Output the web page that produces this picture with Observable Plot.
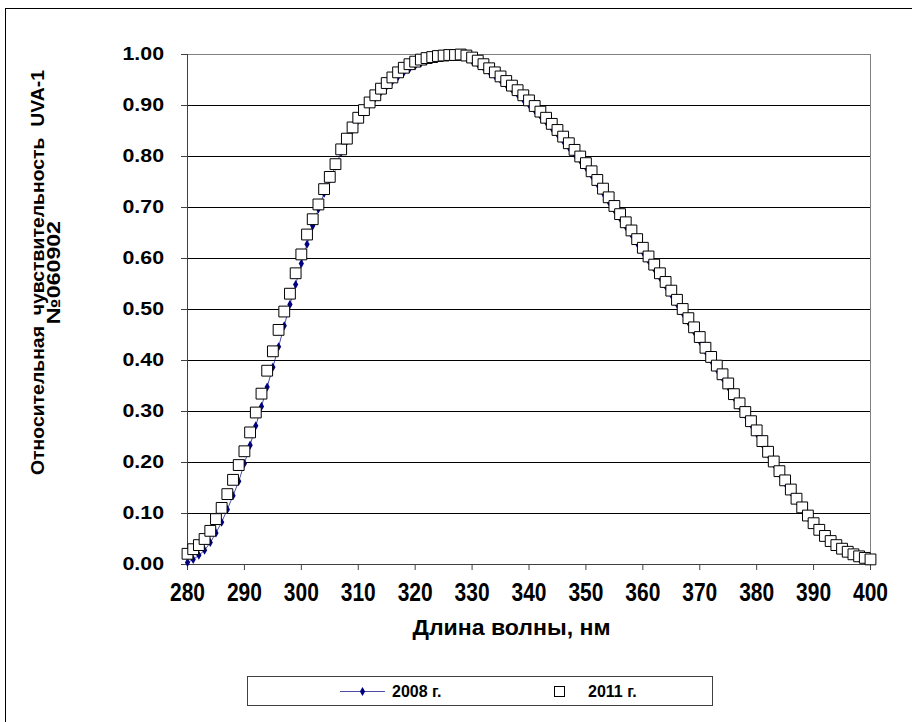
<!DOCTYPE html>
<html><head><meta charset="utf-8">
<script src="https://cdn.jsdelivr.net/npm/d3@7"></script>
<script src="https://cdn.jsdelivr.net/npm/@observablehq/plot@0.6"></script>
<style>
html,body{margin:0;padding:0;background:#fff;width:912px;height:722px;overflow:hidden;}
#wrap{position:relative;width:912px;height:722px;font-family:"Liberation Sans",Arial,sans-serif;}
#chart{position:absolute;left:0;top:0;}
#frame{position:absolute;left:5px;top:8px;width:1000px;height:1000px;border-left:1px solid #000;border-top:1px solid #000;pointer-events:none;}
#legend{position:absolute;left:247px;top:676px;overflow:visible;}
</style></head>
<body><div id="wrap"><div id="chart"></div><div id="frame"></div><svg id="legend" width="467" height="31"></svg></div>
<script>
const wavelengths = [280,281,282,283,284,285,286,287,288,289,290,291,292,293,294,295,296,297,298,299,
300,301,302,303,304,305,306,307,308,309,310,311,312,313,314,315,316,317,318,319,
320,321,322,323,324,325,326,327,328,329,330,331,332,333,334,335,336,337,338,339,
340,341,342,343,344,345,346,347,348,349,350,351,352,353,354,355,356,357,358,359,
360,361,362,363,364,365,366,367,368,369,370,371,372,373,374,375,376,377,378,379,
380,381,382,383,384,385,386,387,388,389,390,391,392,393,394,395,396,397,398,399,400];

const sens2008 = [0.004,0.010,0.018,0.028,0.043,0.062,0.083,0.108,0.135,0.163,0.198,0.234,0.272,0.310,0.348,0.387,0.427,0.468,0.510,0.549,
0.590,0.628,0.664,0.697,0.728,0.755,0.781,0.808,0.830,0.852,0.871,0.887,0.902,0.915,0.927,0.938,0.948,0.957,0.965,0.972,
0.978,0.983,0.987,0.991,0.994,0.996,0.998,1.000,0.998,0.994,0.988,0.982,0.975,0.967,0.959,0.950,0.941,0.932,0.922,0.912,
0.902,0.891,0.880,0.868,0.856,0.844,0.831,0.818,0.805,0.792,0.779,0.763,0.746,0.729,0.712,0.695,0.679,0.663,0.647,0.630,
0.613,0.596,0.580,0.563,0.546,0.529,0.511,0.493,0.475,0.457,0.438,0.418,0.400,0.383,0.366,0.348,0.328,0.310,0.293,0.275,
0.257,0.236,0.216,0.197,0.178,0.160,0.142,0.125,0.108,0.092,0.078,0.065,0.054,0.044,0.036,0.029,0.023,0.018,0.014,0.011,0.008];

const sens2011 = [0.021,0.030,0.038,0.050,0.066,0.089,0.111,0.138,0.166,0.195,0.222,0.259,0.298,0.335,0.380,0.418,0.460,0.496,0.531,0.571,
0.608,0.647,0.677,0.706,0.736,0.760,0.785,0.814,0.835,0.857,0.876,0.891,0.906,0.920,0.933,0.944,0.955,0.965,0.974,0.981,
0.986,0.990,0.993,0.995,0.997,0.998,0.999,0.999,1.000,0.998,0.994,0.988,0.981,0.973,0.965,0.957,0.948,0.939,0.930,0.920,
0.910,0.899,0.888,0.876,0.864,0.852,0.839,0.826,0.813,0.800,0.787,0.771,0.754,0.737,0.720,0.703,0.687,0.671,0.655,0.638,
0.621,0.604,0.588,0.571,0.554,0.537,0.519,0.501,0.483,0.465,0.446,0.425,0.407,0.390,0.373,0.355,0.334,0.316,0.299,0.281,
0.263,0.242,0.221,0.202,0.183,0.165,0.147,0.129,0.112,0.096,0.081,0.068,0.056,0.046,0.038,0.031,0.025,0.020,0.016,0.013,0.010];

const xTicks = [280,290,300,310,320,330,340,350,360,370,380,390,400];
const yTicks = [0,0.1,0.2,0.3,0.4,0.5,0.6,0.7,0.8,0.9,1.0];
const seriesNames = ["2008 г.", "2011 г."];
const xTitle = "Длина волны, нм";
const yTitle1 = "Относительная  чувствительность  UVA-1";
const yTitle2 = "№060902";

const FONT = '"Liberation Sans", Arial, sans-serif';
const data = wavelengths.map((w, i) => ({w, v08: sens2008[i], v11: sens2011[i]}));

const W = 912, H = 722, ML = 187, MR = 42, MT = 54, MB = 158;
const frameCx = (ML + (W - MR)) / 2, frameCy = (MT + (H - MB)) / 2;

const chart = Plot.plot({
  width: W, height: H,
  marginLeft: ML, marginRight: MR, marginTop: MT, marginBottom: MB,
  x: {domain: [xTicks[0], xTicks[xTicks.length - 1]], axis: null},
  y: {domain: [yTicks[0], yTicks[yTicks.length - 1]], axis: null},
  style: {background: "transparent", fontFamily: FONT, overflow: "visible"},
  marks: [
    Plot.ruleY(yTicks.slice(1, -1), {stroke: "#000", strokeWidth: 1}),
    Plot.frame({stroke: "#808080"}),
    Plot.ruleX([xTicks[0]], {stroke: "#404040"}),
    Plot.ruleY([yTicks[0]], {stroke: "#404040"}),
    Plot.ruleY(yTicks, {x1: xTicks[0], x2: xTicks[0], insetLeft: -6, stroke: "#404040"}),
    Plot.ruleX(xTicks, {y1: yTicks[0], y2: yTicks[0], insetBottom: -6, stroke: "#404040"}),
    Plot.text(yTicks, {y: d => d, text: d => d.toFixed(2), frameAnchor: "left", textAnchor: "end",
      dx: -23.5, fontSize: 18.5, fontWeight: "bold", fontFamily: FONT, fill: "#000"}),
    Plot.text(xTicks, {x: d => d, text: d => String(d), frameAnchor: "bottom", textAnchor: "middle", dy: 36,
      fontSize: 25, fontWeight: "bold", fontFamily: FONT, fill: "#000"}),
    Plot.text([xTitle], {text: d => d, frameAnchor: "bottom", textAnchor: "middle", dx: 511 - frameCx, dy: 70.5,
      fontSize: 22, fontWeight: "bold", fontFamily: FONT, fill: "#000"}),
    Plot.text([yTitle1], {text: d => d, frameAnchor: "left", textAnchor: "middle", rotate: -90, dx: 37 - ML, dy: 272 - frameCy,
      fontSize: 19, fontWeight: "bold", fontFamily: FONT, fill: "#000"}),
    Plot.text([yTitle2], {text: d => d, frameAnchor: "left", textAnchor: "middle", rotate: -90, dx: 53 - ML, dy: 272 - frameCy,
      fontSize: 19, fontWeight: "bold", fontFamily: FONT, fill: "#000"}),
    Plot.line(data, {x: "w", y: "v08", stroke: "#000080", strokeWidth: 1, strokeOpacity: 0.7}),
    Plot.dot(data, {x: "w", y: "v08", symbol: "diamond", r: 2.75, fill: "#000080"}),
    Plot.dot(data, {x: "w", y: "v11", symbol: "square", r: 6.1, fill: "#fff", stroke: "#000", strokeWidth: 1})
  ]
});

function stretch(el, len) {
  el.setAttribute("textLength", len);
  el.setAttribute("lengthAdjust", "spacingAndGlyphs");
}
d3.select(chart).selectAll("text").each(function() {
  const t = this.textContent;
  this.style.whiteSpace = "pre";
  if (/^\d{3}$/.test(t)) stretch(this, 35);
  else if (/^\d\.\d\d$/.test(t)) stretch(this, 41.5);
  else if (t === xTitle) stretch(this, 198);
  else if (t === yTitle1) stretch(this, 405);
  else if (t === yTitle2) stretch(this, 103);
});
document.getElementById("chart").appendChild(chart);

// legend
const lg = d3.select("#legend");
lg.append("rect").attr("x", 0.5).attr("y", 0.5).attr("width", 465).attr("height", 29)
  .attr("fill", "#fff").attr("stroke", "#404040");
lg.append("line").attr("x1", 93).attr("x2", 138).attr("y1", 15.5).attr("y2", 15.5)
  .attr("stroke", "#000080").attr("stroke-opacity", 0.7);
lg.append("path").attr("transform", "translate(115.5,15.5)")
  .attr("d", d3.symbol(d3.symbolDiamond, 2.75 * 2.75 * Math.PI)()).attr("fill", "#000080");
lg.append("text").attr("x", 145).attr("y", 21).attr("font-family", FONT).attr("font-size", 16)
  .attr("font-weight", "bold").text(seriesNames[0]);
lg.append("rect").attr("x", 307.5).attr("y", 10.5).attr("width", 10).attr("height", 10)
  .attr("fill", "#fff").attr("stroke", "#000");
lg.append("text").attr("x", 341).attr("y", 21).attr("font-family", FONT).attr("font-size", 16)
  .attr("font-weight", "bold").text(seriesNames[1]);
</script></body></html>
